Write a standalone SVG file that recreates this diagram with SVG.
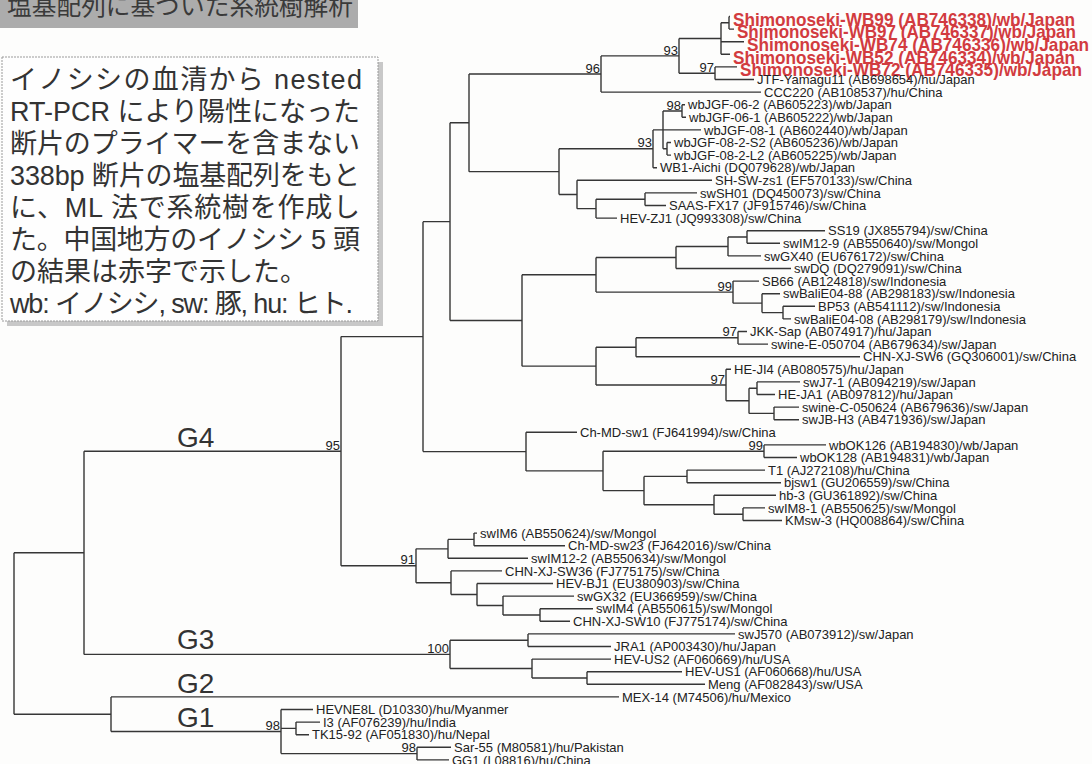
<svg xmlns="http://www.w3.org/2000/svg" width="1092" height="764" viewBox="0 0 1092 764">
<style>
.bg{fill:#fdfdfc}
.br{fill:none;stroke:#363636;stroke-width:1.4}
.t{font-family:"Liberation Sans",Arial,sans-serif;font-size:13px;fill:#222}
.r{font-family:"Liberation Sans",Arial,sans-serif;font-size:19px;font-weight:bold;fill:#d23b3f}
.bs{font-family:"Liberation Sans",Arial,sans-serif;font-size:13px;fill:#222;text-anchor:end}
.g{font-family:"Liberation Sans",Arial,sans-serif;font-size:28px;fill:#333}
.jp{font-family:"Liberation Sans","Noto Sans CJK JP",sans-serif;font-size:27px;fill:#333}
.ttl{font-family:"Noto Sans CJK JP",sans-serif;font-size:25px;fill:#3a3a3a}
</style>
<rect class="bg" x="0" y="0" width="1092" height="764"/>
<g id="title">
<rect x="0" y="0" width="358" height="28" fill="#acacac"/>
<text class="ttl" x="7" y="15" textLength="346" lengthAdjust="spacingAndGlyphs">塩基配列に基づいた系統樹解析</text>
</g>
<g id="note">
<rect x="7" y="62" width="376" height="264" fill="#c8c8c8"/>
<rect x="2" y="57" width="376" height="264" fill="#fefefe" stroke="#9a9a9a" stroke-width="1" stroke-dasharray="2,1"/>
<text class="jp" x="10" y="88.5" textLength="352" lengthAdjust="spacing">イノシシの血清から nested</text>
<text class="jp" x="10" y="120.5" textLength="350" lengthAdjust="spacing">RT-PCR により陽性になった</text>
<text class="jp" x="10" y="152.5" textLength="350" lengthAdjust="spacing">断片のプライマーを含まない</text>
<text class="jp" x="10" y="184.5" textLength="350" lengthAdjust="spacing">338bp 断片の塩基配列をもと</text>
<text class="jp" x="10" y="216.5" textLength="350" lengthAdjust="spacing">に、ML 法で系統樹を作成し</text>
<text class="jp" x="10" y="248.5" textLength="350" lengthAdjust="spacing">た。中国地方のイノシシ 5 頭</text>
<text class="jp" x="10" y="280.5">の結果は赤字で示した。</text>
<text class="jp" x="10" y="312.5" textLength="343" lengthAdjust="spacing">wb: イノシシ, sw: 豚, hu: ヒト.</text>
</g>
<g id="branches" class="br">
<path d="M729,16.5V29.1M729,16.5H730M729,29.1H734"/>
<path d="M721,22.8V54.3M721,22.8H729M721,41.7H744M721,54.3H730"/>
<path d="M715,66.9V79.5M715,66.9H737M715,79.5H754"/>
<path d="M679,38.55V73.2M679,38.55H721M679,73.2H715"/>
<path d="M601,55.9V92.1M601,55.9H679M601,92.1H761"/>
<path d="M682,104.7V117.3M682,104.7H685M682,117.3H686"/>
<path d="M667,142.5V155.1M667,142.5H671M667,155.1H671"/>
<path d="M663,111V148.8M663,111H682M663,129.9H701M663,148.8H667"/>
<path d="M653,129.9V167.7M653,129.9H663M653,167.7H657"/>
<path d="M645,192.9V205.5M645,192.9H697M645,205.5H666"/>
<path d="M596,199.2V218.1M596,199.2H645M596,218.1H617"/>
<path d="M577,180.3V208.65M577,180.3H712M577,208.65H596"/>
<path d="M559,148.8V194.5M559,148.8H653M559,194.5H577"/>
<path d="M469,74V171.65M469,74H601M469,171.65H559"/>
<path d="M747,230.7V243.3M747,230.7H825M747,243.3H780"/>
<path d="M728,237V255.9M728,237H747M728,255.9H761"/>
<path d="M676,246.45V268.5M676,246.45H728M676,268.5H791"/>
<path d="M783,306.3V318.9M783,306.3H815M783,318.9H791"/>
<path d="M762,293.7V312.6M762,293.7H780M762,312.6H783"/>
<path d="M733,281.1V303.15M733,281.1H759M733,303.15H762"/>
<path d="M596,257.5V292.1M596,257.5H676M596,292.1H733"/>
<path d="M738,331.5V344.1M738,331.5H747M738,344.1H768"/>
<path d="M636,337.8V356.7M636,337.8H738M636,356.7H860"/>
<path d="M757,381.9V394.5M757,381.9H800M757,394.5H775"/>
<path d="M774,407.1V419.7M774,407.1H799M774,419.7H799"/>
<path d="M749,388.2V413.4M749,388.2H757M749,413.4H774"/>
<path d="M726,369.3V400.8M726,369.3H731M726,400.8H749"/>
<path d="M596,347.25V385.05M596,347.25H636M596,385.05H726"/>
<path d="M522,274.8V366.15M522,274.8H596M522,366.15H596"/>
<path d="M450,122.8V320.5M450,122.8H469M450,320.5H522"/>
<path d="M764,444.9V457.5M764,444.9H826M764,457.5H797"/>
<path d="M687,470.1V482.7M687,470.1H765M687,482.7H781"/>
<path d="M743,507.9V520.5M743,507.9H765M743,520.5H782"/>
<path d="M714,495.3V514.2M714,495.3H776M714,514.2H743"/>
<path d="M644,476.4V504.75M644,476.4H687M644,504.75H714"/>
<path d="M603,451.2V490.6M603,451.2H764M603,490.6H644"/>
<path d="M526,432.3V470.9M526,432.3H577M526,470.9H603"/>
<path d="M423,221.65V451.6M423,221.65H450M423,451.6H526"/>
<path d="M474,533.1V545.7M474,533.1H477M474,545.7H565"/>
<path d="M448,539.4V558.3M448,539.4H474M448,558.3H528"/>
<path d="M540,608.7V621.3M540,608.7H593M540,621.3H570"/>
<path d="M503,596.1V615M503,596.1H574M503,615H540"/>
<path d="M477,583.5V605.55M477,583.5H553M477,605.55H503"/>
<path d="M451,570.9V594.5M451,570.9H502M451,594.5H477"/>
<path d="M416,548.85V582.7M416,548.85H448M416,582.7H451"/>
<path d="M341,336.6V565.8M341,336.6H423M341,565.8H416"/>
<path d="M528,633.9V646.5M528,633.9H735M528,646.5H611"/>
<path d="M587,671.7V684.3M587,671.7H682M587,684.3H705"/>
<path d="M532,659.1V678M532,659.1H611M532,678H587"/>
<path d="M450,640.2V668.55M450,640.2H528M450,668.55H532"/>
<path d="M84,451.2V654.4M84,451.2H341M84,654.4H450"/>
<path d="M296,722.1V734.7M296,722.1H320M296,734.7H309"/>
<path d="M417,747.3V759.9M417,747.3H451M417,759.9H449"/>
<path d="M281,709.5V753.6M281,709.5H313M281,728.4H296M281,753.6H417"/>
<path d="M111,696.9V731.55M111,696.9H619M111,731.55H281"/>
<path d="M14,552.8V714.2M14,552.8H84M14,714.2H111"/>
</g>
<g id="support">
<text class="bs" x="678" y="54.5">93</text>
<text class="bs" x="714" y="71.7">97</text>
<text class="bs" x="600" y="72.5">96</text>
<text class="bs" x="681" y="109.5">98</text>
<text class="bs" x="652" y="147.3">93</text>
<text class="bs" x="732" y="290.6">99</text>
<text class="bs" x="737" y="336.3">97</text>
<text class="bs" x="725" y="383.5">97</text>
<text class="bs" x="763" y="449.7">99</text>
<text class="bs" x="340" y="449.7">95</text>
<text class="bs" x="415" y="564.3">91</text>
<text class="bs" x="449" y="652.9">100</text>
<text class="bs" x="280" y="730">98</text>
<text class="bs" x="416" y="752">98</text>
</g>
<g id="genotypes">
<text class="g" x="177" y="447">G4</text>
<text class="g" x="177" y="649">G3</text>
<text class="g" x="177" y="693">G2</text>
<text class="g" x="177" y="727">G1</text>
</g>
<g id="leaf-WB99"><text class="r" x="733" y="25.8" textLength="342" lengthAdjust="spacingAndGlyphs">Shimonoseki-WB99 (AB746338)/wb/Japan</text></g>
<g id="leaf-WB97"><text class="r" x="737" y="38.4" textLength="339" lengthAdjust="spacingAndGlyphs">Shimonoseki-WB97 (AB746337)/wb/Japan</text></g>
<g id="leaf-WB74"><text class="r" x="747" y="51" textLength="342" lengthAdjust="spacingAndGlyphs">Shimonoseki-WB74 (AB746336)/wb/Japan</text></g>
<g id="leaf-WB52"><text class="r" x="733" y="63.6" textLength="342" lengthAdjust="spacingAndGlyphs">Shimonoseki-WB52 (AB746334)/wb/Japan</text></g>
<g id="leaf-WB72"><text class="r" x="740" y="76.2" textLength="342" lengthAdjust="spacingAndGlyphs">Shimonoseki-WB72 (AB746335)/wb/Japan</text></g>
<g id="leaf-JTF"><text class="t" x="757" y="84.1">JTF-Yamagu11 (AB698654)/hu/Japan</text></g>
<g id="leaf-CCC220"><text class="t" x="764" y="96.7">CCC220 (AB108537)/hu/China</text></g>
<g id="leaf-JGF0602"><text class="t" x="688" y="109.3">wbJGF-06-2 (AB605223)/wb/Japan</text></g>
<g id="leaf-JGF0601"><text class="t" x="689" y="121.9">wbJGF-06-1 (AB605222)/wb/Japan</text></g>
<g id="leaf-JGF0801"><text class="t" x="704" y="134.5">wbJGF-08-1 (AB602440)/wb/Japan</text></g>
<g id="leaf-JGFS2"><text class="t" x="674" y="147.1">wbJGF-08-2-S2 (AB605236)/wb/Japan</text></g>
<g id="leaf-JGFL2"><text class="t" x="674" y="159.7">wbJGF-08-2-L2 (AB605225)/wb/Japan</text></g>
<g id="leaf-WB1Aichi"><text class="t" x="660" y="172.3">WB1-Aichi (DQ079628)/wb/Japan</text></g>
<g id="leaf-SHSWzs1"><text class="t" x="715" y="184.9">SH-SW-zs1 (EF570133)/sw/China</text></g>
<g id="leaf-swSH01"><text class="t" x="700" y="197.5">swSH01 (DQ450073)/sw/China</text></g>
<g id="leaf-SAAS"><text class="t" x="669" y="210.1">SAAS-FX17 (JF915746)/sw/China</text></g>
<g id="leaf-HEVZJ1"><text class="t" x="620" y="222.7">HEV-ZJ1 (JQ993308)/sw/China</text></g>
<g id="leaf-SS19"><text class="t" x="828" y="235.3">SS19 (JX855794)/sw/China</text></g>
<g id="leaf-swIM129"><text class="t" x="783" y="247.9">swIM12-9 (AB550640)/sw/Mongol</text></g>
<g id="leaf-swGX40"><text class="t" x="764" y="260.5">swGX40 (EU676172)/sw/China</text></g>
<g id="leaf-swDQ"><text class="t" x="794" y="273.1">swDQ (DQ279091)/sw/China</text></g>
<g id="leaf-SB66"><text class="t" x="762" y="285.7">SB66 (AB124818)/sw/Indonesia</text></g>
<g id="leaf-Bali88"><text class="t" x="783" y="298.3">swBaliE04-88 (AB298183)/sw/Indonesia</text></g>
<g id="leaf-BP53"><text class="t" x="818" y="310.9">BP53 (AB541112)/sw/Indonesia</text></g>
<g id="leaf-Bali08"><text class="t" x="794" y="323.5">swBaliE04-08 (AB298179)/sw/Indonesia</text></g>
<g id="leaf-JKK"><text class="t" x="750" y="336.1">JKK-Sap (AB074917)/hu/Japan</text></g>
<g id="leaf-swineE"><text class="t" x="771" y="348.7">swine-E-050704 (AB679634)/sw/Japan</text></g>
<g id="leaf-SW6"><text class="t" x="863" y="361.3">CHN-XJ-SW6 (GQ306001)/sw/China</text></g>
<g id="leaf-HEJI4"><text class="t" x="734" y="373.9">HE-JI4 (AB080575)/hu/Japan</text></g>
<g id="leaf-swJ71"><text class="t" x="803" y="386.5">swJ7-1 (AB094219)/sw/Japan</text></g>
<g id="leaf-HEJA1"><text class="t" x="778" y="399.1">HE-JA1 (AB097812)/hu/Japan</text></g>
<g id="leaf-swineC"><text class="t" x="802" y="411.7">swine-C-050624 (AB679636)/sw/Japan</text></g>
<g id="leaf-swJBH3"><text class="t" x="802" y="424.3">swJB-H3 (AB471936)/sw/Japan</text></g>
<g id="leaf-ChMDsw1"><text class="t" x="580" y="436.9">Ch-MD-sw1 (FJ641994)/sw/China</text></g>
<g id="leaf-wbOK126"><text class="t" x="829" y="449.5">wbOK126 (AB194830)/wb/Japan</text></g>
<g id="leaf-wbOK128"><text class="t" x="800" y="462.1">wbOK128 (AB194831)/wb/Japan</text></g>
<g id="leaf-T1"><text class="t" x="768" y="474.7">T1 (AJ272108)/hu/China</text></g>
<g id="leaf-bjsw1"><text class="t" x="784" y="487.3">bjsw1 (GU206559)/sw/China</text></g>
<g id="leaf-hb3"><text class="t" x="779" y="499.9">hb-3 (GU361892)/sw/China</text></g>
<g id="leaf-swIM81"><text class="t" x="768" y="512.5">swIM8-1 (AB550625)/sw/Mongol</text></g>
<g id="leaf-KMsw3"><text class="t" x="785" y="525.1">KMsw-3 (HQ008864)/sw/China</text></g>
<g id="leaf-swIM6"><text class="t" x="480" y="537.7">swIM6 (AB550624)/sw/Mongol</text></g>
<g id="leaf-ChMDsw23"><text class="t" x="568" y="550.3">Ch-MD-sw23 (FJ642016)/sw/China</text></g>
<g id="leaf-swIM122"><text class="t" x="531" y="562.9">swIM12-2 (AB550634)/sw/Mongol</text></g>
<g id="leaf-SW36"><text class="t" x="505" y="575.5">CHN-XJ-SW36 (FJ775175)/sw/China</text></g>
<g id="leaf-HEVBJ1"><text class="t" x="556" y="588.1">HEV-BJ1 (EU380903)/sw/China</text></g>
<g id="leaf-swGX32"><text class="t" x="577" y="600.7">swGX32 (EU366959)/sw/China</text></g>
<g id="leaf-swIM4"><text class="t" x="596" y="613.3">swIM4 (AB550615)/sw/Mongol</text></g>
<g id="leaf-SW10"><text class="t" x="573" y="625.9">CHN-XJ-SW10 (FJ775174)/sw/China</text></g>
<g id="leaf-swJ570"><text class="t" x="738" y="638.5">swJ570 (AB073912)/sw/Japan</text></g>
<g id="leaf-JRA1"><text class="t" x="614" y="651.1">JRA1 (AP003430)/hu/Japan</text></g>
<g id="leaf-HEVUS2"><text class="t" x="614" y="663.7">HEV-US2 (AF060669)/hu/USA</text></g>
<g id="leaf-HEVUS1"><text class="t" x="685" y="676.3">HEV-US1 (AF060668)/hu/USA</text></g>
<g id="leaf-Meng"><text class="t" x="708" y="688.9">Meng (AF082843)/sw/USA</text></g>
<g id="leaf-MEX14"><text class="t" x="622" y="701.5">MEX-14 (M74506)/hu/Mexico</text></g>
<g id="leaf-HEVNE8L"><text class="t" x="316" y="714.1">HEVNE8L (D10330)/hu/Myanmer</text></g>
<g id="leaf-I3"><text class="t" x="323" y="726.7">I3 (AF076239)/hu/India</text></g>
<g id="leaf-TK1592"><text class="t" x="312" y="739.3">TK15-92 (AF051830)/hu/Nepal</text></g>
<g id="leaf-Sar55"><text class="t" x="454" y="751.9">Sar-55 (M80581)/hu/Pakistan</text></g>
<g id="leaf-GG1"><text class="t" x="452" y="764.5">GG1 (L08816)/hu/China</text></g>
</svg>
